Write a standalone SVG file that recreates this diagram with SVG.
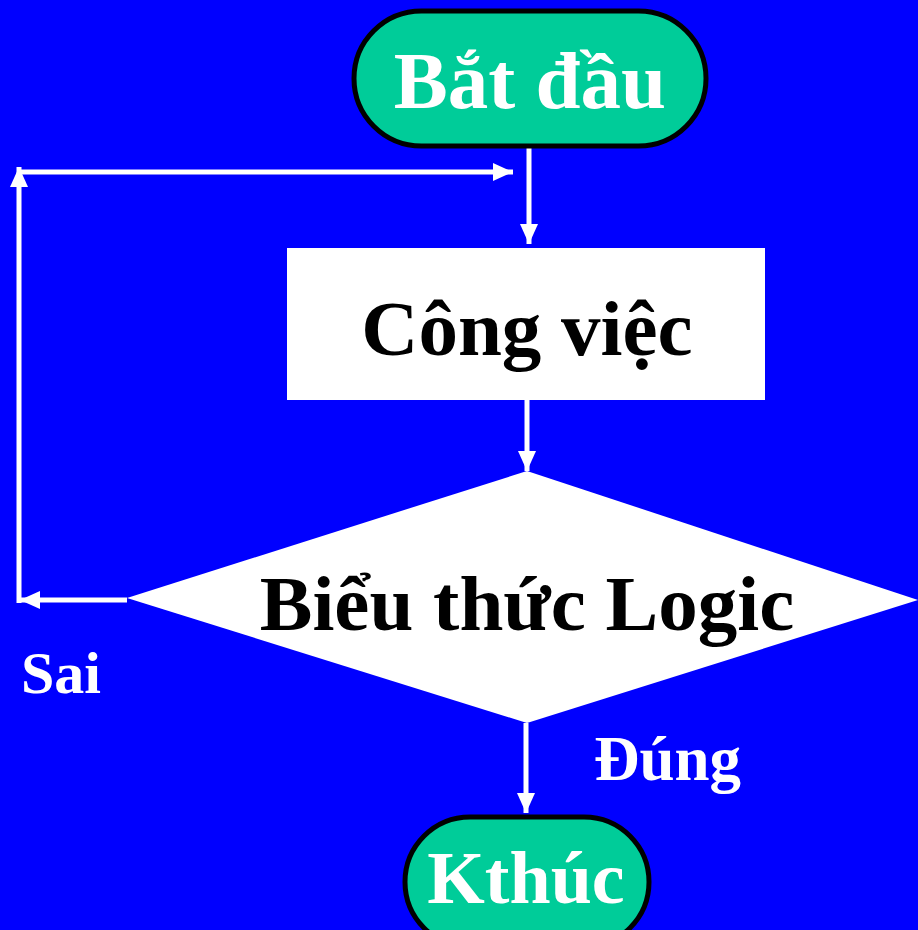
<svg xmlns="http://www.w3.org/2000/svg" width="918" height="930" viewBox="0 0 918 930">
<defs>
<marker id="ah" markerUnits="userSpaceOnUse" markerWidth="20" markerHeight="18" refX="20" refY="9" orient="auto">
<path d="M0,0 L20,9 L0,18 Z" fill="#ffffff"/>
</marker>
<style>
.term{fill:#00CC99;stroke:#000000;stroke-width:5}
.wt{font-family:"Liberation Serif","Times New Roman",serif;font-weight:bold;fill:#ffffff;text-anchor:middle}
.bt{font-family:"Liberation Serif","Times New Roman",serif;font-weight:bold;fill:#000000;text-anchor:middle}
.lbl{font-family:"Liberation Serif","Times New Roman",serif;font-weight:bold;fill:#ffffff}
.con{stroke:#ffffff;stroke-width:5;fill:none}
</style>
</defs>
<rect x="0" y="0" width="918" height="930" fill="#0000FF"/>
<g id="connectors">
<line class="con" x1="529" y1="148" x2="529" y2="244" marker-end="url(#ah)"/>
<line class="con" x1="527" y1="400" x2="527" y2="471" marker-end="url(#ah)"/>
<line class="con" x1="526" y1="723" x2="526" y2="813" marker-end="url(#ah)"/>
<line class="con" x1="127" y1="600" x2="20" y2="600" marker-end="url(#ah)"/>
<line class="con" x1="19" y1="603" x2="19" y2="167" marker-end="url(#ah)"/>
<line class="con" x1="17" y1="172" x2="513" y2="172" marker-end="url(#ah)"/>
</g>
<g id="start">
<rect class="term" x="354" y="11" width="352" height="135" rx="67.5"/>
<text class="wt" x="530" y="108" font-size="81">Bắt đầu</text>
</g>
<g id="task">
<rect x="287" y="248" width="478" height="152" fill="#ffffff"/>
<text class="bt" x="527" y="355" font-size="79">Công việc</text>
</g>
<g id="decision">
<polygon points="527,471 918,600 527,723 127,598" fill="#ffffff"/>
<text class="bt" x="527" y="630" font-size="79">Biểu thức Logic</text>
</g>
<g id="end">
<rect class="term" x="405" y="817" width="244" height="130" rx="65"/>
<text class="wt" x="526" y="903" font-size="74">Kthúc</text>
</g>
<g id="labels">
<text class="lbl" x="21" y="693" font-size="60">Sai</text>
<text class="lbl" x="594" y="780" font-size="63">Đúng</text>
</g>
</svg>
